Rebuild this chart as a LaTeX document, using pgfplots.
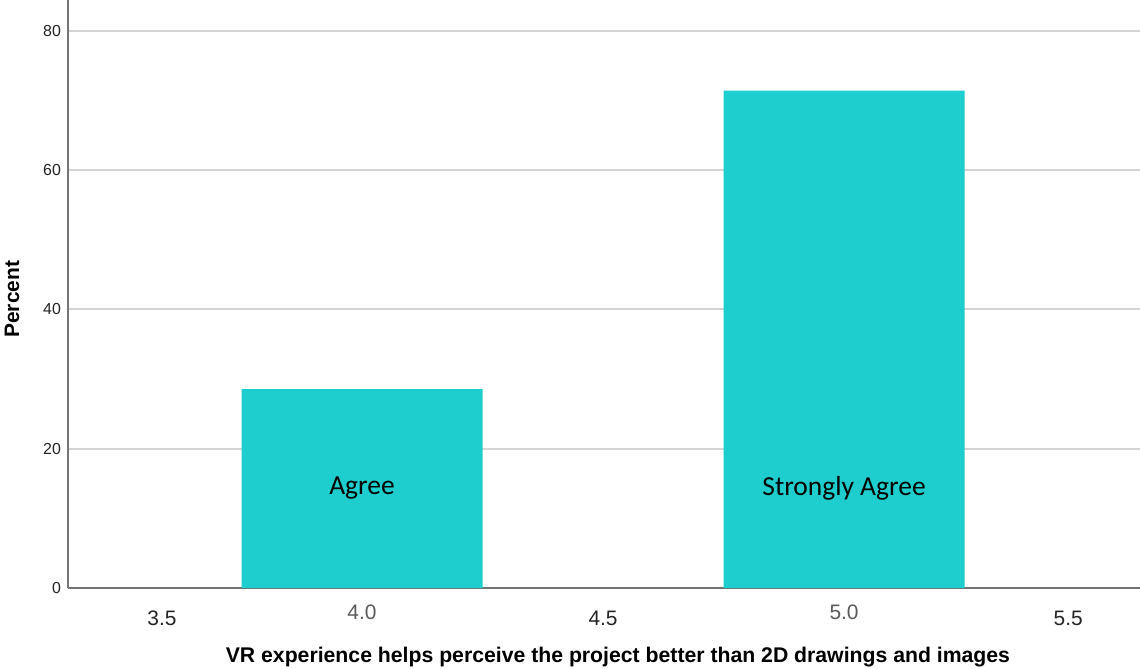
\documentclass[border=0pt]{standalone}
\usepackage{fontspec}
\setmainfont{Liberation Sans}
\newfontfamily\calibri{Carlito}
\usepackage{pgfplots}
\pgfplotsset{compat=1.18}
\definecolor{barteal}{RGB}{30,205,205}
\definecolor{gridgray}{RGB}{212,212,212}
\definecolor{spinegray}{RGB}{115,115,115}
\definecolor{ticktext}{RGB}{35,35,35}
\begin{document}
\begin{tikzpicture}[x=1bp,y=1bp]
\path[use as bounding box] (0,0) rectangle (570,334);
\begin{axis}[
    at={(34bp,40bp)}, anchor=south west,
    scale only axis, width=536bp, height=294bp,
    xmin=3.39, xmax=5.614,
    ymin=0, ymax=84.45,
    axis x line=bottom, axis y line=left,
    axis line style={-, draw=spinegray, line width=0.8bp},
    ymajorgrids=true,
    grid style={draw=gridgray, line width=1bp},
    major tick length=0pt,
    /pgf/number format/assume math mode=true,
    ytick={0,20,40,60,80},
    yticklabel style={font=\fontsize{8}{9}\selectfont, text=ticktext, xshift=0bp},
    xtick={3.585,4.5,5.465},
    xticklabels={3.5,4.5,5.5},
    xticklabel style={font=\fontsize{10.5}{12}\selectfont, text=ticktext, yshift=-8bp},
    extra x ticks={4,5},
    extra x tick labels={4.0,5.0},
    extra x tick style={xticklabel style={yshift=3bp, text=black!65}},
    xlabel={\bfseries VR experience helps perceive the project better than 2D drawings and images},
    xlabel style={font=\fontsize{10.65}{12}\selectfont, at={(axis description cs:0.513,-0.118)}, anchor=center},
    ylabel={\bfseries Percent},
    ylabel style={font=\fontsize{10.5}{12}\selectfont, at={(axis description cs:-0.0522,0.491)}, anchor=center},
    ybar, bar width=0.5,
]
\addplot[draw=none, fill=barteal] coordinates {(4,28.57) (5,71.43)};
\node[font=\calibri\fontsize{13.8}{16}\selectfont] at (axis cs:4,14.3) {Agree};
\node[font=\calibri\fontsize{13.8}{16}\selectfont] at (axis cs:5,14.3) {Strongly Agree};
\end{axis}
\end{tikzpicture}
\end{document}
